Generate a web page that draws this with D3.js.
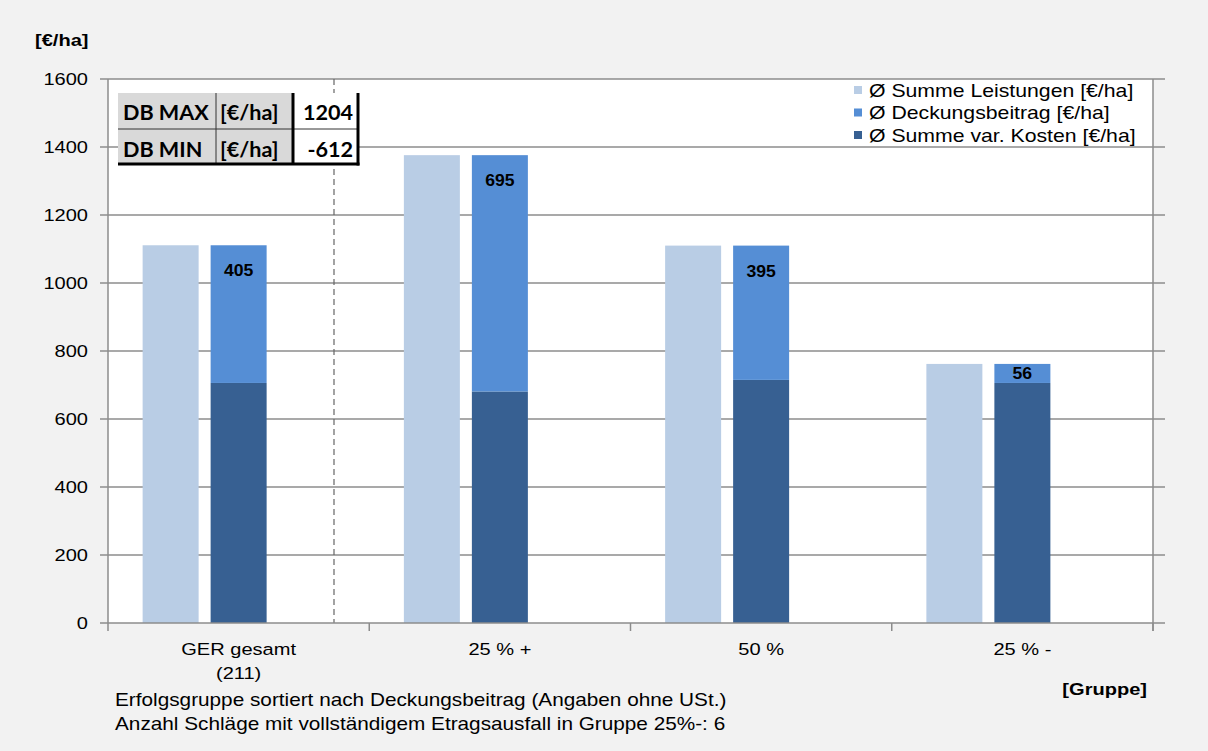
<!DOCTYPE html>
<html>
<head>
<meta charset="utf-8">
<script src="https://cdn.jsdelivr.net/npm/d3@7/dist/d3.min.js"></script>
<style>
  body { margin: 0; background: #f2f2f2; }
  svg { display: block; font-family: "Liberation Sans", Arial, sans-serif; }
</style>
</head>
<body>
<svg id="chart" width="1208" height="751"></svg>
<script>
// data
const categories = ['GER gesamt|(211)', '25 % +', '50 %', '25 % -'];
const leistungen = [1111, 1376, 1110, 762];
const deckungsbeitrag = [405, 695, 395, 56];
const kosten = [706, 681, 715, 706];
const yTicks = [0, 200, 400, 600, 800, 1000, 1200, 1400, 1600];
const legendLabels = ['Ø Summe Leistungen [€/ha]', 'Ø Deckungsbeitrag [€/ha]', 'Ø Summe var. Kosten [€/ha]'];
const colors = ['#b9cde5', '#558ed5', '#376092'];
const tableRows = [['DB MAX', '[€/ha]', '1204'], ['DB MIN', '[€/ha]', '-612']];
const notes = [
  'Erfolgsgruppe sortiert nach Deckungsbeitrag (Angaben ohne USt.)',
  'Anzahl Schläge mit vollständigem Etragsausfall in Gruppe 25%-: 6'
];

const W = 1208, H = 751;
const plot = { left: 108, right: 1153, top: 79, bottom: 623 };
const SX = 1.18; // the source picture is stretched sideways

const svg = d3.select('#chart');
svg.append('rect').attr('width', W).attr('height', H).attr('fill', '#f2f2f2');

function txt(g, x, y, s, opt = {}) {
  return g.append('text')
    .attr('transform', `translate(${x},${y}) scale(${opt.sx || SX},1)`)
    .attr('text-anchor', opt.anchor || 'start')
    .style('font-size', (opt.size || 17) + 'px')
    .style('font-weight', opt.bold ? 'bold' : null)
    .style('font-family', opt.family || null)
    .attr('fill', '#000')
    .text(s);
}

const x = d3.scaleBand().domain(categories).range([plot.left, plot.right]);
const y = d3.scaleLinear().domain([0, 1600]).range([plot.bottom, plot.top]);
const barW = 56, offset = 68;

// plot area
svg.append('rect')
  .attr('x', plot.left).attr('y', plot.top)
  .attr('width', plot.right - plot.left).attr('height', plot.bottom - plot.top)
  .attr('fill', '#fff');

// gridlines
svg.append('g').selectAll('line').data(yTicks.filter(d => d > 0)).join('line')
  .attr('x1', plot.left - 8).attr('x2', plot.right + 12)
  .attr('y1', d => y(d)).attr('y2', d => y(d))
  .attr('stroke', '#8c8c8c').attr('stroke-width', 1.5);

// separator after first group
svg.append('line')
  .attr('x1', 334).attr('x2', 334).attr('y1', plot.top).attr('y2', plot.bottom)
  .attr('stroke', '#666').attr('stroke-width', 1.2).attr('stroke-dasharray', '6,4');

// bars
const idx = categories.map((c, i) => i);
const center = i => x(categories[i]) + x.bandwidth() / 2;

svg.append('g').selectAll('rect').data(idx).join('rect')
  .attr('x', i => center(i) - barW / 2 - offset)
  .attr('y', i => y(leistungen[i]))
  .attr('width', barW)
  .attr('height', i => y(0) - y(leistungen[i]))
  .attr('fill', colors[0]);

svg.append('g').selectAll('rect').data(idx).join('rect')
  .attr('x', i => center(i) - barW / 2)
  .attr('y', i => y(kosten[i]))
  .attr('width', barW)
  .attr('height', i => y(0) - y(kosten[i]))
  .attr('fill', colors[2]);

svg.append('g').selectAll('rect').data(idx).join('rect')
  .attr('x', i => center(i) - barW / 2)
  .attr('y', i => y(kosten[i] + deckungsbeitrag[i]))
  .attr('width', barW)
  .attr('height', i => y(kosten[i]) - y(kosten[i] + deckungsbeitrag[i]))
  .attr('fill', colors[1]);

// DB labels
const labG = svg.append('g');
idx.forEach(i => {
  const top = y(kosten[i] + deckungsbeitrag[i]);
  const segH = y(kosten[i]) - top;
  const cy = top + Math.min(25, segH / 2);
  txt(labG, center(i), cy + 6, String(deckungsbeitrag[i]), { anchor: 'middle', bold: true, size: 16, sx: 1.1 });
});

// axes lines
svg.append('line').attr('x1', plot.left).attr('x2', plot.left).attr('y1', plot.top).attr('y2', plot.bottom)
  .attr('stroke', '#8c8c8c').attr('stroke-width', 1.5);
svg.append('line').attr('x1', plot.right).attr('x2', plot.right).attr('y1', plot.top).attr('y2', plot.bottom + 8)
  .attr('stroke', '#8c8c8c').attr('stroke-width', 1.5);
svg.append('line').attr('x1', plot.left - 8).attr('x2', plot.right + 12).attr('y1', plot.bottom).attr('y2', plot.bottom)
  .attr('stroke', '#8c8c8c').attr('stroke-width', 1.5);

// x ticks at category boundaries
svg.append('g').selectAll('line').data(categories.map(c => x(c)).concat([plot.right])).join('line')
  .attr('x1', d => d).attr('x2', d => d).attr('y1', plot.bottom).attr('y2', plot.bottom + 8)
  .attr('stroke', '#8c8c8c').attr('stroke-width', 1.5);

// y tick labels
const yl = svg.append('g');
yTicks.forEach(t => txt(yl, plot.left - 20, y(t) + 6, String(t), { anchor: 'end', size: 17 }));

// x labels
const xl = svg.append('g');
categories.forEach((c, i) => {
  c.split('|').forEach((line, k) => txt(xl, center(i), 655 + k * 24, line, { anchor: 'middle', size: 17 }));
});

// titles and notes
txt(svg, 35, 46, '[€/ha]', { bold: true, size: 17 });
txt(svg, 1147, 695, '[Gruppe]', { bold: true, size: 17, anchor: 'end' });
notes.forEach((n, k) => txt(svg, 115, 706 + k * 24, n, { size: 17.6 }));

// legend
const lg = svg.append('g');
legendLabels.forEach((l, k) => {
  const cy = 90 + k * 22.5;
  lg.append('rect').attr('x', 854).attr('y', cy - 4).attr('width', 8).attr('height', 8).attr('fill', colors[k]);
  txt(lg, 869, cy + 6.5, l, { size: 18 });
});

// DB table
const tb = svg.append('g');
const colX = [118, 216, 293, 358];
const rowY = [93, 129, 164];
tableRows.forEach((row, r) => {
  row.forEach((cell, c) => {
    tb.append('rect').attr('x', colX[c]).attr('y', rowY[r])
      .attr('width', colX[c + 1] - colX[c]).attr('height', rowY[r + 1] - rowY[r])
      .attr('fill', c < 2 ? '#d9d9d9' : '#fff');
  });
});
tb.append('line').attr('x1', colX[0]).attr('x2', colX[3]).attr('y1', rowY[1]).attr('y2', rowY[1]).attr('stroke', '#333').attr('stroke-width', 1);
tb.append('line').attr('x1', colX[1]).attr('x2', colX[1]).attr('y1', rowY[0]).attr('y2', rowY[2]).attr('stroke', '#333').attr('stroke-width', 1);
tb.append('line').attr('x1', colX[2]).attr('x2', colX[2]).attr('y1', rowY[0]).attr('y2', rowY[2]).attr('stroke', '#000').attr('stroke-width', 3);
tb.append('line').attr('x1', colX[3]).attr('x2', colX[3]).attr('y1', rowY[0]).attr('y2', rowY[2] + 1.5).attr('stroke', '#000').attr('stroke-width', 3);
tb.append('line').attr('x1', colX[0]).attr('x2', colX[3] + 1.5).attr('y1', rowY[2]).attr('y2', rowY[2]).attr('stroke', '#000').attr('stroke-width', 3);
tableRows.forEach((row, r) => {
  const base = [120, 157][r];
  txt(tb, 123, base, row[0], { bold: true, size: 20, sx: 1.08, family: 'Lato' });
  txt(tb, 220, base, row[1], { bold: true, size: 20, sx: 1.08, family: 'Lato' });
  txt(tb, 353, base, row[2], { bold: true, size: 20, sx: 1.08, family: 'Lato', anchor: 'end' });
});
</script>
</body>
</html>
